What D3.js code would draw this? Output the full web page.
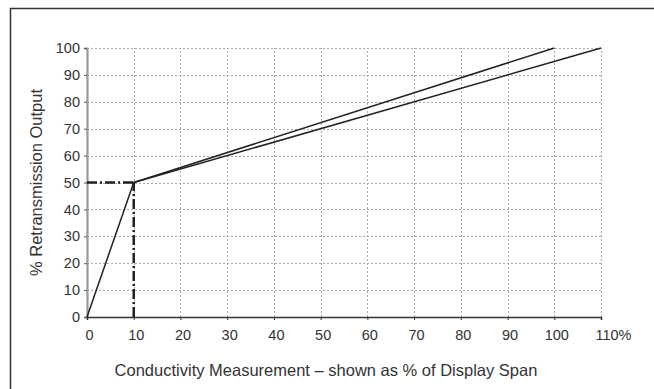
<!DOCTYPE html>
<html>
<head>
<meta charset="utf-8">
<script src="https://cdn.jsdelivr.net/npm/d3@7"></script>
<style>
  html, body { margin: 0; padding: 0; background: #fff; }
  #chart { width: 654px; height: 389px; }
  text { font-family: "Liberation Sans", Arial, Helvetica, sans-serif; fill: #333; }
</style>
</head>
<body>
<div id="chart"></div>
<script>
// tick values
const xTicks = [0, 10, 20, 30, 40, 50, 60, 70, 80, 90, 100, 110];
const yTicks = [0, 10, 20, 30, 40, 50, 60, 70, 80, 90, 100];

// response curves: [measurement %, output %]
const lowerSegment = [[0, 0], [10, 50]];
const upperA = [[10, 50], [100, 100]];
const upperB = [[10, 50], [110, 100]];

// dash-dot guides marking the breakpoint
const guideH = [[0, 50], [10, 50]];
const guideV = [[10, 0], [10, 50]];

function draw() {
  const w = 654, h = 389;
  const svg = d3.select("#chart").append("svg")
    .attr("width", w)
    .attr("height", h);

  // frame
  svg.append("path")
    .attr("d", `M10.5,${h} L10.5,8.5 L${w},8.5`)
    .attr("fill", "none")
    .attr("stroke", "#333")
    .attr("stroke-width", 1.5);

  const x = d3.scaleLinear().domain([0, 110]).range([87, 601]);
  const y = d3.scaleLinear().domain([0, 100]).range([317, 48]);

  // grid
  const grid = svg.append("g")
    .attr("stroke", "#aaa")
    .attr("stroke-width", 1)
    .attr("stroke-dasharray", "2,2");
  grid.selectAll(".gx").data(xTicks.slice(1)).join("line")
    .attr("x1", d => Math.round(x(d)) + 0.5).attr("x2", d => Math.round(x(d)) + 0.5)
    .attr("y1", y(0)).attr("y2", y(100));
  grid.selectAll(".gy").data(yTicks.slice(1)).join("line")
    .attr("x1", x(0)).attr("x2", x(110))
    .attr("y1", d => Math.round(y(d)) + 0.5).attr("y2", d => Math.round(y(d)) + 0.5);

  // y axis
  const yAxis = svg.append("g")
    .attr("transform", `translate(${x(0)},0)`)
    .call(d3.axisLeft(y).tickValues(yTicks).tickSize(3).tickPadding(4));
  yAxis.select(".domain").attr("stroke", "#999").attr("stroke-width", 2.2);
  yAxis.selectAll(".tick line").attr("stroke", "#555");
  yAxis.selectAll(".tick text")
    .attr("font-size", 14.5)
    .attr("fill", "#3a3a3a")
    .attr("font-family", "Liberation Sans, Arial, sans-serif");

  // x axis
  const xAxis = svg.append("g")
    .attr("transform", `translate(0,${y(0)})`)
    .call(d3.axisBottom(x).tickValues(xTicks).tickSize(3).tickPadding(10)
      .tickFormat(d => d === 110 ? "110%" : d));
  xAxis.select(".domain").attr("stroke", "#333").attr("stroke-width", 1.5);
  xAxis.selectAll(".tick line").attr("stroke", "#333");
  xAxis.selectAll(".tick text")
    .attr("font-size", 14.5)
    .attr("fill", "#3a3a3a")
    .attr("font-family", "Liberation Sans, Arial, sans-serif")
    .attr("dx", 2);
  xAxis.selectAll(".tick text").filter(d => d === 110)
    .attr("text-anchor", "start")
    .attr("dx", -6);

  const line = d3.line().x(d => x(d[0])).y(d => y(d[1]));

  // guides
  [guideH, guideV].forEach(g => {
    svg.append("path")
      .attr("d", line(g))
      .attr("fill", "none")
      .attr("stroke", "#222")
      .attr("stroke-width", 2.5)
      .attr("stroke-dasharray", "10,3,2,3");
  });

  // curves
  [lowerSegment, upperA, upperB].forEach(seg => {
    svg.append("path")
      .attr("d", line(seg))
      .attr("fill", "none")
      .attr("stroke", "#222")
      .attr("stroke-width", 1.5);
  });

  // titles
  svg.append("text")
    .attr("x", 326)
    .attr("y", 376)
    .attr("text-anchor", "middle")
    .attr("font-size", 16.5)
    .attr("fill", "#3a3a3a")
    .text("Conductivity Measurement – shown as % of Display Span");

  svg.append("text")
    .attr("transform", `translate(42,${(y(0) + y(100)) / 2}) rotate(-90)`)
    .attr("text-anchor", "middle")
    .attr("font-size", 16.5)
    .attr("fill", "#3a3a3a")
    .text("% Retransmission Output");
}

draw();
</script>
</body>
</html>
